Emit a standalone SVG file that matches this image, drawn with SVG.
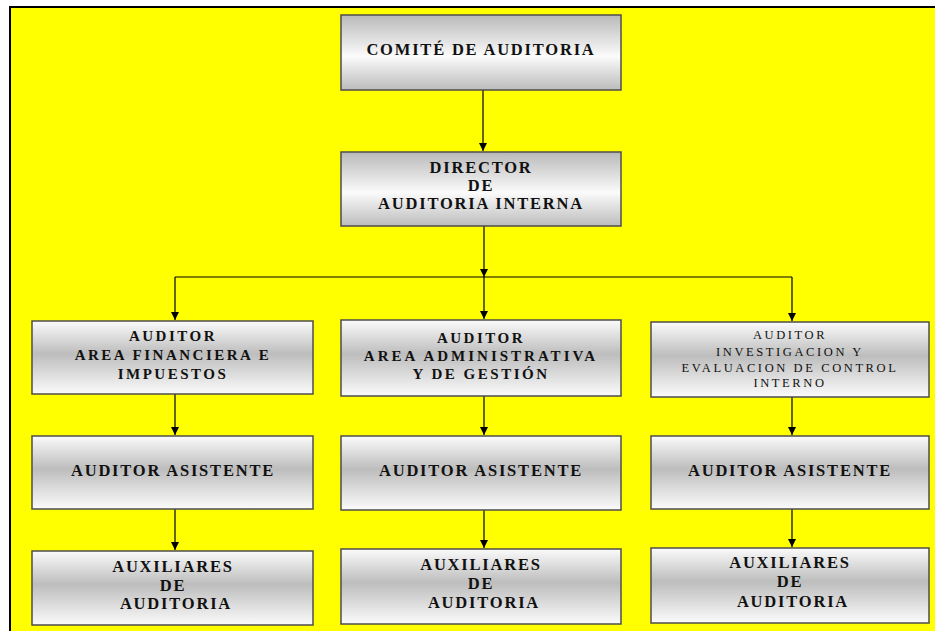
<svg xmlns="http://www.w3.org/2000/svg" width="935" height="631" viewBox="0 0 935 631">
  <defs>
    <!-- upper boxes: grey edges, light band below centre -->
    <linearGradient id="gradTop" x1="0" y1="0" x2="0" y2="1">
      <stop offset="0" stop-color="#b9b9b9"/>
      <stop offset="0.55" stop-color="#fbfbfb"/>
      <stop offset="1" stop-color="#bcbcbc"/>
    </linearGradient>
    <!-- lower boxes: light edges, grey band at centre -->
    <linearGradient id="gradLow" x1="0" y1="0" x2="0" y2="1">
      <stop offset="0" stop-color="#fbfbfb"/>
      <stop offset="0.45" stop-color="#bdbdbd"/>
      <stop offset="1" stop-color="#fbfbfb"/>
    </linearGradient>
    <marker id="arrow" viewBox="0 0 10 10" refX="10" refY="5" markerWidth="8" markerHeight="8" markerUnits="userSpaceOnUse" orient="auto">
      <path d="M0,0 L10,5 L0,10 z" fill="#000"/>
    </marker>
    <style>
      .box-top { fill: url(#gradTop); stroke: #4d4d4d; stroke-width: 1.5; }
      .box-low { fill: url(#gradLow); stroke: #4d4d4d; stroke-width: 1.5; }
      .lbl { font-family: "Liberation Serif", "Times New Roman", serif; font-weight: bold; font-size: 16.5px; letter-spacing: 1.8px; fill: #111; text-anchor: middle; }
      .lbl-sm { font-family: "Liberation Serif", "Times New Roman", serif; font-weight: bold; font-size: 15px; letter-spacing: 2.5px; fill: #111; text-anchor: middle; }
      .lbl-xs { font-family: "Liberation Serif", "Times New Roman", serif; font-weight: normal; font-size: 12.5px; letter-spacing: 2.6px; fill: #111; text-anchor: middle; }
      .link { stroke: #000; stroke-width: 1.2; fill: none; }
    </style>
  </defs>

  <!-- page background with frame -->
  <rect x="0" y="0" width="935" height="631" fill="#ffffff"/>
  <rect x="10" y="7" width="925" height="624" fill="#ffff00"/>
  <line x1="9" y1="7" x2="935" y2="7" stroke="#000" stroke-width="2"/>
  <line x1="10" y1="6" x2="10" y2="631" stroke="#000" stroke-width="2"/>

  <!-- connectors -->
  <g id="connectors">
    <line class="link" x1="483" y1="90" x2="483" y2="151" marker-end="url(#arrow)"/>
    <line class="link" x1="484" y1="226" x2="484" y2="277" marker-end="url(#arrow)"/>
    <line class="link" x1="175" y1="277" x2="792" y2="277"/>
    <line class="link" x1="175" y1="277" x2="175" y2="320" marker-end="url(#arrow)"/>
    <line class="link" x1="484" y1="277" x2="484" y2="319" marker-end="url(#arrow)"/>
    <line class="link" x1="792" y1="277" x2="792" y2="321" marker-end="url(#arrow)"/>
    <line class="link" x1="175" y1="394" x2="175" y2="435" marker-end="url(#arrow)"/>
    <line class="link" x1="484" y1="396" x2="484" y2="435" marker-end="url(#arrow)"/>
    <line class="link" x1="792" y1="397" x2="792" y2="435" marker-end="url(#arrow)"/>
    <line class="link" x1="175" y1="509" x2="175" y2="550" marker-end="url(#arrow)"/>
    <line class="link" x1="484" y1="510" x2="484" y2="548" marker-end="url(#arrow)"/>
    <line class="link" x1="792" y1="509" x2="792" y2="547" marker-end="url(#arrow)"/>
  </g>

  <g id="comite">
    <rect class="box-top" x="341" y="15" width="280" height="75"/>
    <text class="lbl" x="481" y="55">COMITÉ DE AUDITORIA</text>
  </g>

  <g id="director">
    <rect class="box-top" x="341" y="152" width="280" height="74"/>
    <text class="lbl" x="481" y="173">DIRECTOR</text>
    <text class="lbl" x="481" y="191">DE</text>
    <text class="lbl" x="481" y="209">AUDITORIA INTERNA</text>
  </g>

  <g id="auditor-financiera">
    <rect class="box-low" x="32" y="321" width="281" height="73"/>
    <text class="lbl-sm" x="173" y="341">AUDITOR</text>
    <text class="lbl-sm" x="173" y="360">AREA FINANCIERA E</text>
    <text class="lbl-sm" x="173" y="379">IMPUESTOS</text>
  </g>

  <g id="auditor-administrativa">
    <rect class="box-low" x="341" y="320" width="280" height="76"/>
    <text class="lbl-sm" x="481" y="343">AUDITOR</text>
    <text class="lbl-sm" x="481" y="361" style="letter-spacing:3px">AREA ADMINISTRATIVA</text>
    <text class="lbl-sm" x="481" y="379">Y DE GESTIÓN</text>
  </g>

  <g id="auditor-control">
    <rect class="box-low" x="651" y="322" width="278" height="75"/>
    <text class="lbl-xs" x="790" y="339">AUDITOR</text>
    <text class="lbl-xs" x="790" y="356">INVESTIGACION Y</text>
    <text class="lbl-xs" x="790" y="372">EVALUACION DE CONTROL</text>
    <text class="lbl-xs" x="790" y="387">INTERNO</text>
  </g>

  <g id="asistente-1">
    <rect class="box-low" x="32" y="436" width="281" height="73"/>
    <text class="lbl" x="173" y="476">AUDITOR ASISTENTE</text>
  </g>

  <g id="asistente-2">
    <rect class="box-low" x="341" y="436" width="280" height="74"/>
    <text class="lbl" x="481" y="476">AUDITOR ASISTENTE</text>
  </g>

  <g id="asistente-3">
    <rect class="box-low" x="651" y="436" width="278" height="73"/>
    <text class="lbl" x="790" y="476">AUDITOR ASISTENTE</text>
  </g>

  <g id="auxiliares-1">
    <rect class="box-low" x="32" y="551" width="281" height="74"/>
    <text class="lbl" x="173" y="572">AUXILIARES</text>
    <text class="lbl" x="173" y="591">DE</text>
    <text class="lbl" x="176" y="609">AUDITORIA</text>
  </g>

  <g id="auxiliares-2">
    <rect class="box-low" x="341" y="549" width="280" height="75"/>
    <text class="lbl" x="481" y="570">AUXILIARES</text>
    <text class="lbl" x="481" y="589">DE</text>
    <text class="lbl" x="484" y="608">AUDITORIA</text>
  </g>

  <g id="auxiliares-3">
    <rect class="box-low" x="651" y="548" width="278" height="75"/>
    <text class="lbl" x="790" y="568">AUXILIARES</text>
    <text class="lbl" x="790" y="587">DE</text>
    <text class="lbl" x="793" y="607">AUDITORIA</text>
  </g>
</svg>
